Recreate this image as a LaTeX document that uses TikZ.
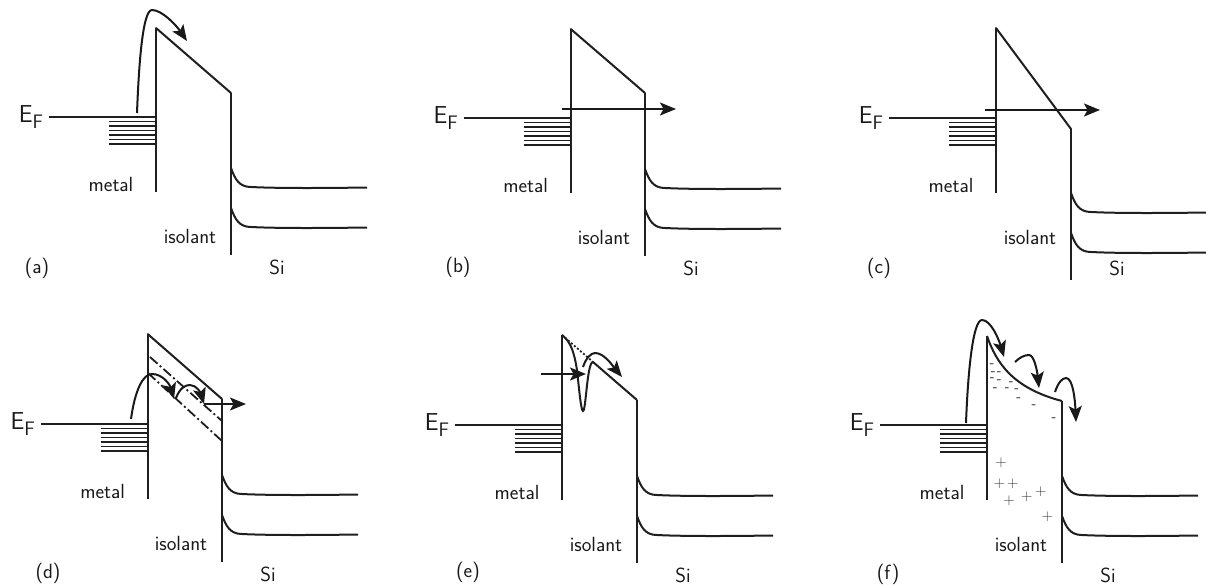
\documentclass[tikz,border=0pt]{standalone}
\usetikzlibrary{arrows.meta}
\renewcommand{\familydefault}{\sfdefault}
\tikzset{
  band/.style={line width=2pt,draw=black!88},
  thinband/.style={line width=1.9pt,draw=black!88},
  flow/.style={line width=2pt,draw=black!90,-{Stealth[length=16pt,width=13pt,inset=3.5pt]}},
  txt/.style={inner sep=0pt,text=black!90,font=\fontsize{20.5}{24}\selectfont},
  efl/.style={inner sep=0pt,text=black!90,font=\fontsize{24.5}{26}\selectfont},
  chg/.style={inner sep=0pt,text=black!80,font=\fontsize{15}{16}\selectfont},
  chgm/.style={inner sep=0pt,text=black!95,font=\fontsize{14.5}{15}\selectfont},
}
\newcommand{\bandpanel}[9]{%
  % name, wall x, EF y, wall top y, Si x, Si top y, band y, letter, letter position
  \coordinate (#1top) at (#2,#4);
  \coordinate (#1wb) at (#2,#3+75);
  \coordinate (#1si) at (#5,#6);
  \coordinate (#1sb) at (#5,#7+87);
  \coordinate (#1efl) at (#2-107,#3);
  \coordinate (#1efr) at (#2,#3);
  \coordinate (#1bu) at (#5,#7);
  \coordinate (#1bl) at (#5,#7+40);
  \coordinate (#1bue) at (#5+136,#7+19.5);
  \coordinate (#1ble) at (#5+136,#7+59.5);
  \draw[band] (#1wb) -- (#1top);
  \draw[band] (#1si) -- (#1sb);
  \draw[band] (#1efl) -- (#1efr);
  \foreach \k in {1,...,6} \draw[thinband] (#2-47,#3+\k*4.5) -- (#2-1,#3+\k*4.5);
  \draw[band] (#1bu) .. controls (#5+4,#7+11) and (#5+8,#7+19) .. (#5+20,#7+19)
     .. controls (#5+50,#7+20.5) and (#5+100,#7+20) .. (#1bue);
  \draw[band] (#1bl) .. controls (#5+4,#7+51) and (#5+8,#7+59) .. (#5+20,#7+59)
     .. controls (#5+50,#7+60.5) and (#5+100,#7+60) .. (#1ble);
  \node[efl] (#1ef) at (#2-125,#3) {E\raisebox{-0.55ex}{\fontsize{19.5}{19}\selectfont F}};
  \node[txt] (#1metal) at (#2-45,#3+67) {metal};
  \node[txt] (#1isolant) at (#5-41,#3+119) {isolant};
  \node[txt] (#1silicon) at (#5+46,#3+150) {Si};
  \node[txt] (#1letter) at (#9) {(#8)};
}
\begin{document}
\begin{tikzpicture}[x=1pt,y=-1pt]
\useasboundingbox (0,0) rectangle (1206,584);

% (a)
\bandpanel{a}{156}{117}{28}{231}{93}{168}{a}{37,268}
\draw[band,line cap=round] (atop) -- (asi);
\coordinate (afrom) at (137,113);
\coordinate (ato) at (187,41);
\draw[flow] (afrom) .. controls (139,60) and (143,10) .. (152,10) .. controls (162,10) and (176,25) .. (ato);

% (b)
\bandpanel{b}{570.7}{118}{29}{645}{93}{169}{b}{458,267}
\draw[band,line cap=round] (btop) -- (bsi);
\coordinate (bfrom) at (562,109);
\coordinate (bto) at (676,109);
\draw[flow] (bfrom) -- (bto);

% (c)
\bandpanel{c}{996}{118}{28}{1071}{129}{193}{c}{879,268}
\draw[band,line cap=round] (ctop) -- (csi);
\coordinate (cfrom) at (985,110);
\coordinate (cto) at (1100,110);
\draw[flow] (cfrom) -- (cto);

% (d)
\bandpanel{d}{147.7}{424}{334}{222}{399}{475}{d}{48,573}
\draw[band,line cap=round] (dtop) -- (dsi);
\coordinate (dd1) at (150,357);
\coordinate (dd2) at (222,421);
\coordinate (dd3) at (148,373);
\coordinate (dd4) at (222,441);
\draw[band,line width=1.8pt,dash pattern=on 10pt off 3pt on 2pt off 3pt] (dd1) -- (dd2);
\draw[band,line width=1.8pt,dash pattern=on 10pt off 3pt on 2pt off 3pt] (dd3) -- (dd4);
\coordinate (dfrom) at (131,419);
\coordinate (dmid) at (174,399);
\coordinate (dmid2) at (176,398);
\coordinate (dend) at (204,404);
\coordinate (dout) at (246,404);
\draw[flow] (dfrom) .. controls (135,390) and (143,374) .. (152,374) .. controls (163,374) and (170,385) .. (dmid);
\draw[flow] (dmid2) .. controls (180,388) and (185,385) .. (190,385) .. controls (197,385) and (201,394) .. (dend);
\draw[flow] (dend) -- (dout);

% (e)
\bandpanel{e}{562}{425}{335}{637}{400}{476}{e}{468,572}
\draw[band] (etop) .. controls (571,342) and (574,352) .. (577,370)
   .. controls (579,388) and (581,411) .. (583,411)
   .. controls (586,411) and (587,362) .. (593,362) -- (esi);
\coordinate (edot) at (593,362);
\draw[band,dotted,line width=1.8pt] (etop) -- (edot);
\coordinate (efrom) at (541,374);
\coordinate (eto) at (586,374);
\draw[flow] (efrom) -- (eto);
\coordinate (e2from) at (583,367);
\coordinate (e2to) at (622,377);
\draw[flow] (e2from) .. controls (586,358) and (591,353) .. (595,353) .. controls (604,353) and (612,365) .. (e2to);

% (f)
\bandpanel{f}{987}{425}{336}{1062}{401}{476}{f}{888,574}
\draw[band] (ftop) .. controls (996,362) and (1012,388) .. (fsi);
\coordinate (f1a) at (966,423);
\coordinate (f1b) at (1004,357);
\coordinate (f2a) at (1015,362);
\coordinate (f2b) at (1039,388);
\coordinate (f3a) at (1055,392);
\coordinate (f3b) at (1076,422);
\draw[flow] (f1a) .. controls (968,370) and (973,320) .. (982,320) .. controls (991,320) and (999,340) .. (f1b);
\draw[flow] (f2a) .. controls (1019,358) and (1024,355) .. (1029,355) .. controls (1034,355) and (1037,370) .. (f2b);
\draw[flow] (f3a) .. controls (1058,383) and (1062,378) .. (1066,378) .. controls (1073,378) and (1075,400) .. (f3b);

\foreach \i/\p in {1/{992,366},2/{993.3,373.3},3/{999.3,373.3},4/{992.3,379.3},5/{999.3,381.3},6/{1011.3,383.3},7/{995.3,389.3},8/{1007.3,389.3},9/{1016.7,390.3},10/{1018.7,399.3},11/{1034,406.3},12/{1054,419.3}}
  \node[chgm] (minus\i) at (\p) {-};
\foreach \i/\p in {1/{1001,462.7},2/{999.3,483.7},3/{1012.7,483.7},4/{1009,500.3},5/{1026.7,496.7},6/{1040.7,491.3},7/{1047.3,516.7}}
  \node[chg] (plus\i) at (\p) {+};
\end{tikzpicture}
\end{document}
